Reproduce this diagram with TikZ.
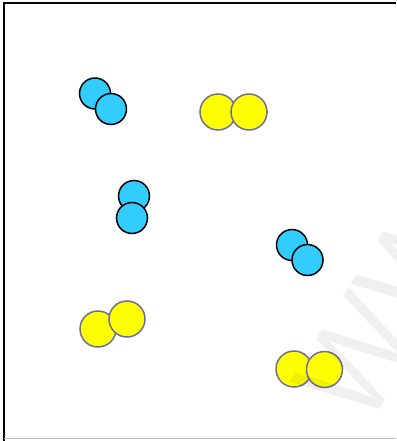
\documentclass[tikz,border=0pt]{standalone}
\usepackage{tikz}
\definecolor{atomblue}{HTML}{33CCFF}
\definecolor{atomyellow}{HTML}{FFFF00}
\definecolor{rimgray}{HTML}{6E6E9E}

\begin{document}
\begin{tikzpicture}[x=1pt,y=-1pt,
  bluedot/.style={circle,draw=black,line width=1.5pt,fill=atomblue,minimum size=31pt,inner sep=0pt},
  yellowdot/.style={circle,draw=rimgray,line width=1.5pt,fill=atomyellow,minimum size=36pt,inner sep=0pt}]
\useasboundingbox (0,0) rectangle (396,441);
% Frame
\draw[line width=2pt,black] (4,441) -- (4,3) -- (396,3);
\draw[line width=1pt,black!25] (4,438) -- (396,438);
% Blue pairs
\node[bluedot] (b1a) at (95,93.5) {};
\node[bluedot] (b1b) at (111,109) {};
\node[bluedot] (b2a) at (134,196) {};
\node[bluedot] (b2b) at (132,218) {};
\node[bluedot] (b3a) at (292,245) {};
\node[bluedot] (b3b) at (307.5,260) {};
% Yellow pairs
\node[yellowdot] (y1a) at (218,112) {};
\node[yellowdot] (y1b) at (249,112) {};
\node[yellowdot] (y2a) at (98,329) {};
\node[yellowdot] (y2b) at (127,319) {};
\node[yellowdot] (y3a) at (294,369) {};
\node[yellowdot] (y3b) at (324.5,369.5) {};
% Watermark
\begin{scope}
\clip (5,4) rectangle (396,437.5);
\node[rotate=58,text=black,opacity=0.06,font=\sffamily\fontsize{130}{130}\selectfont] (mark) at (388,310) {WW};
\end{scope}
\end{tikzpicture}
\end{document}
